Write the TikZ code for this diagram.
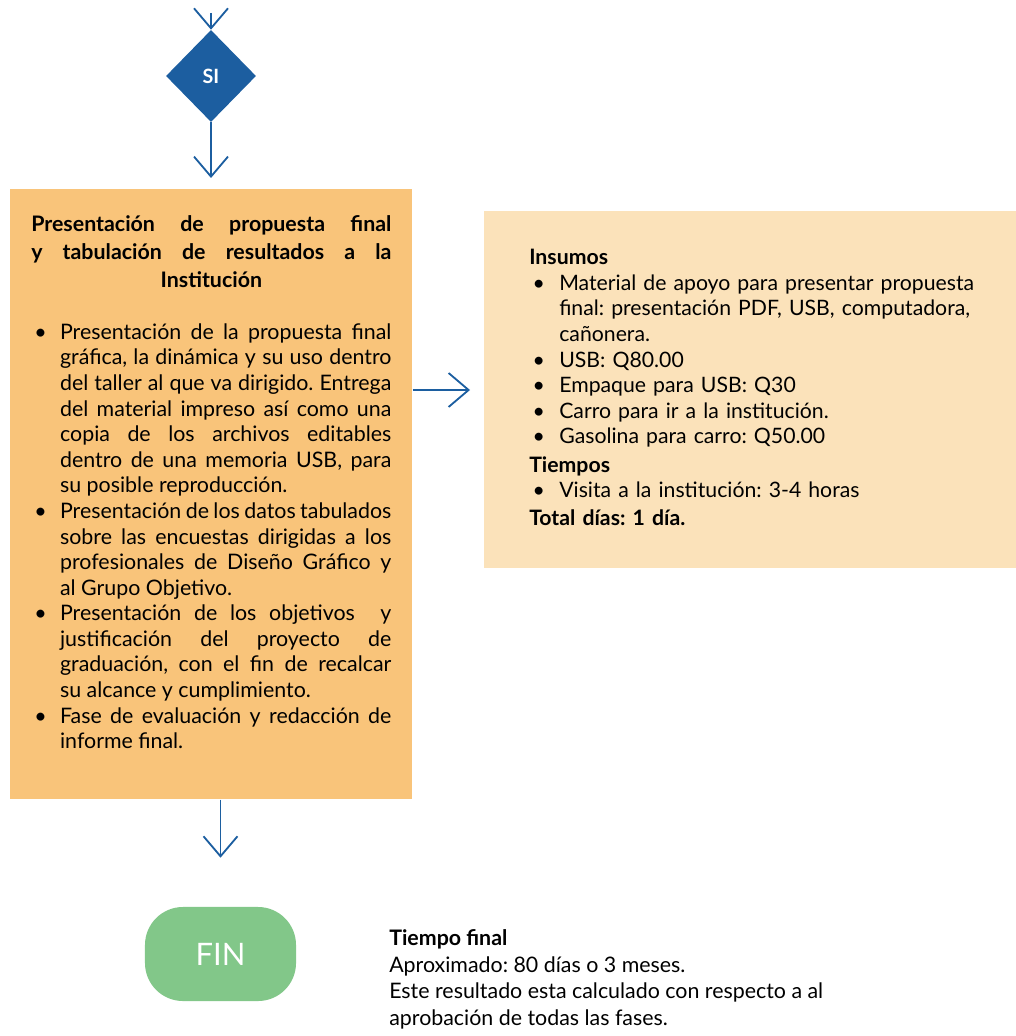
\documentclass[tikz,border=0pt]{standalone}
\usepackage{fontspec}
\setmainfont{Lato}
\usetikzlibrary{shapes.geometric,arrows.meta,positioning}

\definecolor{azul}{RGB}{28,94,160}
\definecolor{naranja}{RGB}{249,196,122}
\definecolor{crema}{RGB}{251,226,186}
\definecolor{verde}{RGB}{130,199,137}

\frenchspacing
% vineta con sangria colgante
\newcommand{\punto}[2]{\par\noindent\hangindent=#1\hangafter=1\makebox[#1][l]{\hspace{0.08cm}\textbullet}#2}

\tikzset{
  flecha/.style={draw=azul, line width=1.3pt, -{Straight Barb[length=0.5cm, width=0.85cm]}},
  caja/.style={rectangle, fill=#1, inner ysep=0pt},
}

\begin{document}
\begin{tikzpicture}[x=0.025cm, y=-0.025cm]
    \useasboundingbox (0,0) rectangle (1016,1036);

    % decision
    \node[diamond, fill=azul, minimum width=2.25cm, minimum height=2.3cm, inner sep=0pt,
          text=white, font=\fontsize{14}{16}\selectfont\bfseries] (si) at (211,76) {SI};
    \coordinate (arriba) at (211,13);

    % fase final
    \node[caja=naranja, anchor=north west, minimum width=10.05cm, minimum height=15.25cm,
          text width=9cm, inner xsep=0.525cm, align=justify,
          font=\fontsize{15.2}{18.2}\selectfont] (fase) at (10,189) {%
      {\bfseries\fontsize{15.2}{19.9}\selectfont Presentación de propuesta final\linebreak
       y tabulación de resultados a la\linebreak
       \hspace*{\fill}Institución\hspace*{\fill}\par}
      \vspace{0.65cm}
      \punto{0.72cm}{Presentación de la propuesta final\linebreak gráfica, la dinámica y su uso dentro\linebreak del taller al que va dirigido. Entrega\linebreak del material impreso así como una\linebreak copia de los archivos editables\linebreak dentro de una memoria USB, para\linebreak su posible reproducción.}
      \punto{0.72cm}{Presentación de los datos tabulados\linebreak sobre las encuestas dirigidas a los\linebreak profesionales de Diseño Gráfico y\linebreak al Grupo Objetivo.}
      \punto{0.72cm}{Presentación de los objetivos\ \ y\linebreak justificación del proyecto de\linebreak graduación, con el fin de recalcar\linebreak su alcance y cumplimiento.}
      \punto{0.72cm}{Fase de evaluación y redacción de\linebreak informe final.}
      \par\vspace{0.6cm}\hrule height 0pt width 0pt
    };

    % insumos
    \node[caja=crema, anchor=north west, minimum width=13.3cm, minimum height=8.925cm,
          text width=11.8cm, inner xsep=0.75cm, align=left,
          font=\fontsize{15.1}{18.2}\selectfont] (insumos) at (484,211) {%
      \leftskip=0.375cm
      \textbf{Insumos}
      \punto{0.75cm}{Material de apoyo para presentar propuesta\newline final: presentación PDF, USB, computadora,\newline cañonera.}
      \punto{0.75cm}{USB: Q80.00}
      \punto{0.75cm}{Empaque para USB: Q30}
      \punto{0.75cm}{Carro para ir a la institución.}
      \punto{0.75cm}{Gasolina para carro: Q50.00}
      \par\vspace{0.07cm}\textbf{Tiempos}
      \punto{0.75cm}{Visita a la institución: 3-4 horas}
      \par\vspace{0.05cm}\textbf{Total días: 1 día.}\par
      \vspace{0.12cm}\hrule height 0pt width 0pt
    };

    % fin
    \node[rectangle, rounded corners=0.95cm, fill=verde, minimum width=3.775cm, minimum height=2.35cm,
          text=white, font=\fontsize{22}{24}\selectfont] (fin) at (220.5,954) {FIN};
    \node[anchor=north west, align=left, inner sep=0pt,
          font=\fontsize{15.2}{19.1}\selectfont] (tiempo) at (389,929) {%
      \textbf{Tiempo final}\\
      Aproximado: 80 días o 3 meses.\\
      Este resultado esta calculado con respecto a al\\
      aprobación de todas las fases.};

    % conectores
    \draw[flecha] (arriba) -- (si.north);
    \draw[flecha, shorten >=0.275cm] (si.south) -- (fase.north -| si.south);
    \draw[flecha, shorten >=0.35cm] (fase.east |- 0,390) -- (insumos.west |- 0,390);
    \draw[flecha, shorten >=1.225cm] (fin.north |- fase.south) -- (fin.north);
\end{tikzpicture}
\end{document}
